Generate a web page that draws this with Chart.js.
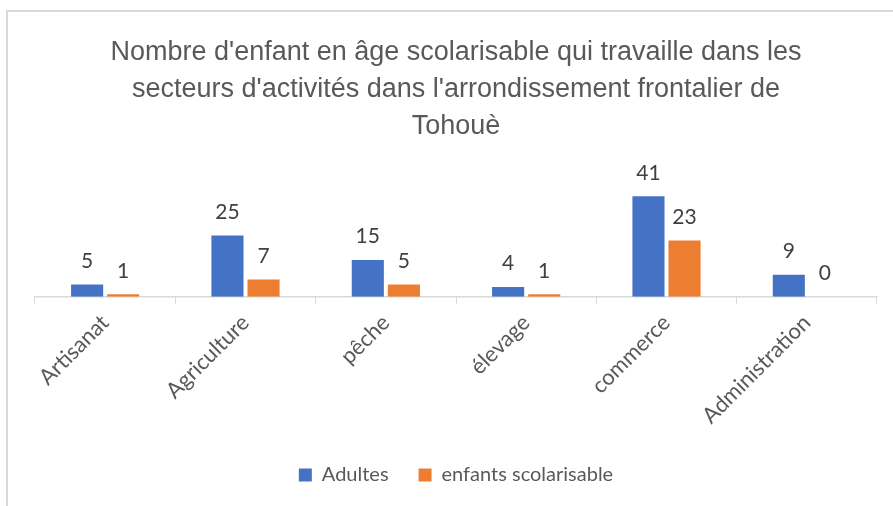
<!DOCTYPE html>
<html>
<head>
<meta charset="utf-8">
<script src="https://cdn.jsdelivr.net/npm/chart.js@4.4.1/dist/chart.umd.min.js"></script>
<style>
  html, body { margin: 0; padding: 0; background: #ffffff; }
  #wrap { position: relative; width: 893px; height: 506px; }
  #frame { position: absolute; left: 6px; top: 10px; right: 0; bottom: 0;
           border-top: 2px solid #d9d9d9; border-left: 2px solid #d9d9d9; pointer-events: none; }
</style>
</head>
<body>
<div id="wrap">
  <canvas id="chart" width="893" height="506"></canvas>
  <div id="frame"></div>
</div>
<script>
const titleLines = [
  "Nombre d'enfant en âge scolarisable qui travaille dans les",
  "secteurs d'activités dans l'arrondissement frontalier de",
  "Tohouè"
];
const categories = ["Artisanat", "Agriculture", "pêche", "élevage", "commerce", "Administration"];
const adultes = [5, 25, 15, 4, 41, 9];
const enfants = [1, 7, 5, 1, 23, 0];
const seriesNames = ["Adultes", "enfants scolarisable"];
const seriesColors = ["#4472C4", "#ED7D31"];

// valeurs au-dessus des barres (pas de plugin datalabels dispo hors ligne)
const valueLabels = {
  id: "valueLabels",
  afterDatasetsDraw(chart) {
    const ctx = chart.ctx;
    ctx.save();
    ctx.font = "21px Lato";
    ctx.fillStyle = "#404040";
    ctx.textAlign = "center";
    ctx.textBaseline = "bottom";
    chart.data.datasets.forEach((ds, i) => {
      chart.getDatasetMeta(i).data.forEach((bar, j) => {
        ctx.fillText(ds.data[j], bar.x, bar.y - 13);
      });
    });
    ctx.restore();
  }
};

const ctx = document.getElementById("chart");
let myChart = new Chart(ctx, {
  type: "bar",
  plugins: [valueLabels],
  data: {
    labels: categories,
    datasets: [
      { label: seriesNames[0], data: adultes, backgroundColor: seriesColors[0] },
      { label: seriesNames[1], data: enfants, backgroundColor: seriesColors[1] }
    ]
  },
  options: {
    responsive: false,
    animation: false,
    categoryPercentage: 0.514,
    barPercentage: 0.89,
    layout: { padding: { left: 35, right: 16, top: 34, bottom: 11 } },
    plugins: {
      tooltip: { enabled: false },
      title: {
        display: true,
        text: titleLines,
        color: "#595959",
        font: { family: "'Liberation Sans Narrow', 'Liberation Sans'", size: 27, weight: "normal", lineHeight: 1.37 },
        padding: { top: 0, bottom: 8 }
      },
      legend: {
        position: "bottom",
        labels: {
          color: "#595959",
          font: { family: "Lato", size: 20 },
          boxWidth: 13,
          boxHeight: 13,
          padding: 30
        }
      }
    },
    scales: {
      x: {
        grid: { offset: true, drawOnChartArea: false, drawTicks: true, tickLength: 7, color: "#d9d9d9" },
        border: { color: "#d9d9d9", width: 1.5 },
        ticks: { color: "#595959", font: { family: "Lato", size: 22 }, minRotation: 45, maxRotation: 45, padding: 6 }
      },
      y: {
        display: false,
        min: 0,
        max: 58.7
      }
    }
  }
});
</script>
</body>
</html>
